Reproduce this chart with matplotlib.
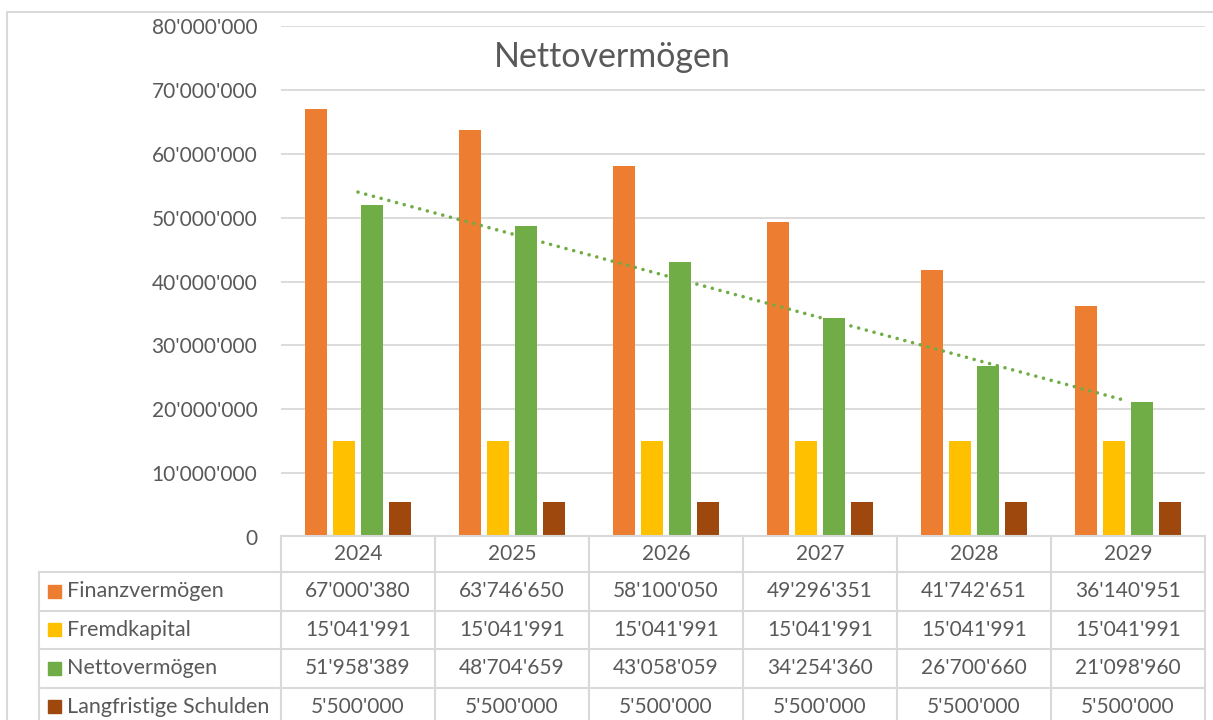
import numpy as np
import matplotlib.pyplot as plt
from matplotlib.ticker import FuncFormatter
from matplotlib.transforms import Affine2D
from matplotlib.patches import Rectangle

plt.rcParams['font.family'] = ['Lato', 'DejaVu Sans']

# data
years = ['2024', '2025', '2026', '2027', '2028', '2029']
finanzvermoegen = [67000380, 63746650, 58100050, 49296351, 41742651, 36140951]
fremdkapital = [15041991, 15041991, 15041991, 15041991, 15041991, 15041991]
nettovermoegen = [51958389, 48704659, 43058059, 34254360, 26700660, 21098960]
langfristige_schulden = [5500000, 5500000, 5500000, 5500000, 5500000, 5500000]
series_names = ['Finanzvermögen', 'Fremdkapital', 'Nettovermögen', 'Langfristige Schulden']
series = [finanzvermoegen, fremdkapital, nettovermoegen, langfristige_schulden]
colors = ['#ED7D31', '#FFC000', '#70AD47', '#9E480E']

TXT = '#595959'
LINE = '#d9d9d9'
W, H = 1213, 720


def fmt(v):
    return f"{int(round(v)):,}".replace(',', "'")


fig = plt.figure(figsize=(W / 100, H / 100), dpi=100)
ax = fig.add_axes([281 / W, 1 - 537 / H, (1205 - 281) / W, (537 - 26) / H])

x = np.arange(1, len(years) + 1)
step, width = 28 / 154, 22 / 154
for i, (vals, c) in enumerate(zip(series, colors)):
    ax.bar(x + (i - 1.5) * step, vals, width, color=c, zorder=3)

# linear trend of Nettovermögen
coef = np.polyfit(x, nettovermoegen, 1)
xt = np.array([x[0], x[-1]])
ax.plot(xt, np.polyval(coef, xt), color='#70AD47', lw=2.6,
        linestyle=(0, (0.01, 2.2)), dash_capstyle='round', zorder=4)

ax.set_xlim(0.5, len(years) + 0.5)
ax.set_ylim(0, 80e6)
ax.set_yticks(np.arange(0, 80e6 + 1, 10e6))
ax.yaxis.set_major_formatter(FuncFormatter(lambda v, p: fmt(v)))
ax.set_xticks([])
ax.grid(axis='y', color=LINE, lw=1.3)
ax.set_axisbelow(True)
for s in ax.spines.values():
    s.set_visible(False)
ax.tick_params(length=0, labelsize=15, colors=TXT, pad=17)

fig.text(612 / W, 1 - 57 / H, 'Nettovermögen', ha='center', va='center',
         fontsize=24.5, color=TXT)

# data table below the axis, in pixel coordinates
P = Affine2D().scale(1, -1).translate(0, H)
edges = [ax.transData.transform((e, 0))[0] for e in np.arange(0.5, len(years) + 1)]
left = 39
row_top = 536
head_bot = 572
rh = 38.5
rows = [head_bot + k * rh for k in range(len(series) + 1)]


def line(xs, ys):
    ax.plot(xs, ys, color=LINE, lw=1.5, transform=P, clip_on=False, zorder=5)


line([edges[0], edges[-1]], [row_top, row_top])
for r in rows[:-1]:
    line([left, edges[-1]], [r, r])
line([left, left], [head_bot, H + 5])
for e in edges:
    line([e, e], [row_top, H + 5])

for j, yr in enumerate(years):
    cx = (edges[j] + edges[j + 1]) / 2
    ax.text(cx, (row_top + head_bot) / 2, yr, transform=P, ha='center', va='center',
            fontsize=15, color=TXT)

for i, (name, vals, c) in enumerate(zip(series_names, series, colors)):
    cy = (rows[i] + rows[i + 1]) / 2
    ax.add_patch(Rectangle((48, cy - 6.5), 13, 13, transform=P, color=c, clip_on=False))
    ax.text(67, cy, name, transform=P, ha='left', va='center', fontsize=15.5, color=TXT)
    for j, v in enumerate(vals):
        cx = (edges[j] + edges[j + 1]) / 2
        ax.text(cx, cy, fmt(v), transform=P, ha='center', va='center',
                fontsize=15, color=TXT)

# chart frame
ax.plot([7, 7, W + 5], [H + 5, 12, 12], color=LINE, lw=1.5, transform=P, clip_on=False)

fig.savefig('out.png', dpi=100, facecolor='white')
